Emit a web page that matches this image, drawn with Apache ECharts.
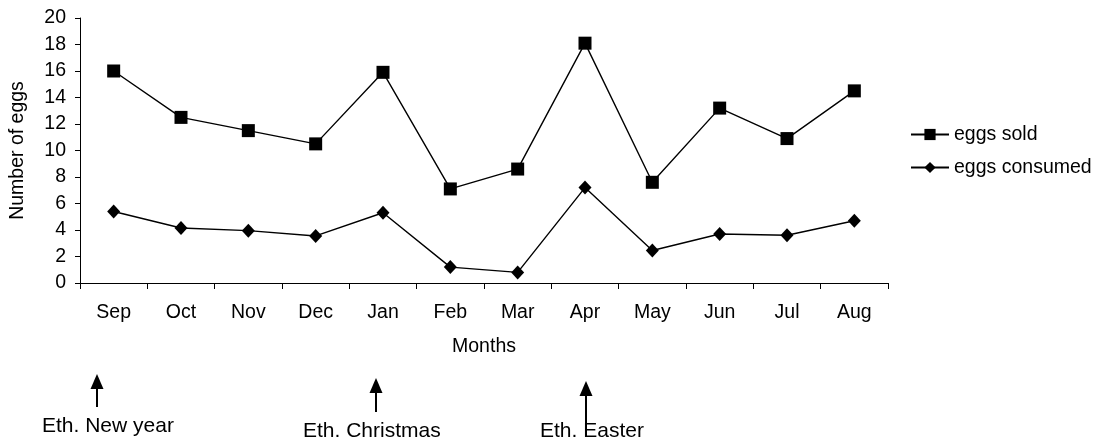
<!DOCTYPE html>
<html>
<head>
<meta charset="utf-8">
<script src="https://cdn.jsdelivr.net/npm/echarts@6/dist/echarts.min.js"></script>
<style>
  html, body { margin: 0; padding: 0; background: #ffffff; }
  #chart { width: 1105px; height: 444px; }
</style>
</head>
<body>
<div id="chart"></div>
<script>
// Monthly egg counts (Ethiopian calendar year starts in September)
const months = ['Sep', 'Oct', 'Nov', 'Dec', 'Jan', 'Feb', 'Mar', 'Apr', 'May', 'Jun', 'Jul', 'Aug'];
const eggsSold = [16.0, 12.5, 11.5, 10.5, 15.9, 7.1, 8.6, 18.1, 7.6, 13.2, 10.9, 14.5];
const eggsConsumed = [5.4, 4.15, 3.95, 3.55, 5.3, 1.2, 0.8, 7.2, 2.45, 3.7, 3.6, 4.7];
const yTicks = [0, 2, 4, 6, 8, 10, 12, 14, 16, 18, 20];
const holidays = ['Eth. New year', 'Eth. Christmas', 'Eth. Easter'];

const FONT = '"Liberation Sans", Arial, sans-serif';
const chart = echarts.init(document.getElementById('chart'), null, { renderer: 'canvas' });

// Upward arrow with a label underneath, used for the holiday markers
function holidayArrow(label, x, tipY, shaftEnd, textX, textY) {
  return [
    {
      type: 'line',
      shape: { x1: x, y1: tipY + 12, x2: x, y2: shaftEnd },
      style: { stroke: '#000', lineWidth: 2 }
    },
    {
      type: 'polygon',
      shape: { points: [[x, tipY], [x - 6.5, tipY + 15], [x + 6.5, tipY + 15]] },
      style: { fill: '#000' }
    },
    {
      type: 'text',
      x: textX,
      y: textY,
      style: {
        text: label,
        fill: '#000',
        font: '21px ' + FONT,
        textAlign: 'left',
        textVerticalAlign: 'middle'
      }
    }
  ];
}

const option = {
  animation: false,
  backgroundColor: '#ffffff',
  grid: { left: 77, right: 217, top: 18, bottom: 161, containLabel: false },
  legend: {
    orient: 'vertical',
    left: 910,
    top: 124,
    padding: 0,
    itemWidth: 38,
    itemHeight: 14,
    itemGap: 12,
    textStyle: { fontFamily: FONT, fontSize: 19.5, color: '#000', lineHeight: 21 },
    data: ['eggs sold', 'eggs consumed']
  },
  xAxis: {
    type: 'category',
    data: months,
    boundaryGap: true,
    name: 'Months',
    nameLocation: 'middle',
    nameGap: 54,
    nameTextStyle: { fontFamily: FONT, fontSize: 19.5, color: '#000' },
    axisLine: { lineStyle: { color: '#000', width: 1 } },
    axisTick: { show: true, length: 6, alignWithLabel: false, lineStyle: { color: '#000' } },
    axisLabel: { fontFamily: FONT, fontSize: 19.5, color: '#000', margin: 20, interval: 0 },
    splitLine: { show: false }
  },
  yAxis: {
    type: 'value',
    min: 0,
    max: 20,
    interval: 2,
    name: 'Number of eggs',
    nameLocation: 'middle',
    nameGap: 52,
    nameRotate: 90,
    nameTextStyle: { fontFamily: FONT, fontSize: 19.5, color: '#000' },
    axisLine: { show: true, lineStyle: { color: '#000', width: 1 } },
    axisTick: { show: true, length: 5, lineStyle: { color: '#000' } },
    axisLabel: {
      fontFamily: FONT, fontSize: 19.5, color: '#000', margin: 14,
      formatter: v => (yTicks.indexOf(v) >= 0 ? String(v) : '')
    },
    splitLine: { show: false }
  },
  series: [
    {
      name: 'eggs sold',
      type: 'line',
      data: eggsSold,
      symbol: 'rect',
      symbolSize: 13,
      itemStyle: { color: '#000' },
      lineStyle: { color: '#000', width: 1.4 }
    },
    {
      name: 'eggs consumed',
      type: 'line',
      data: eggsConsumed,
      symbol: 'diamond',
      symbolSize: [13, 14],
      itemStyle: { color: '#000' },
      lineStyle: { color: '#000', width: 1.4 }
    }
  ],
  graphic: [].concat(
    holidayArrow(holidays[0], 97, 374, 407, 42, 426),
    holidayArrow(holidays[1], 376, 378, 412, 303, 431),
    holidayArrow(holidays[2], 586, 381, 436, 540, 431)
  )
};

chart.setOption(option);
</script>
</body>
</html>
